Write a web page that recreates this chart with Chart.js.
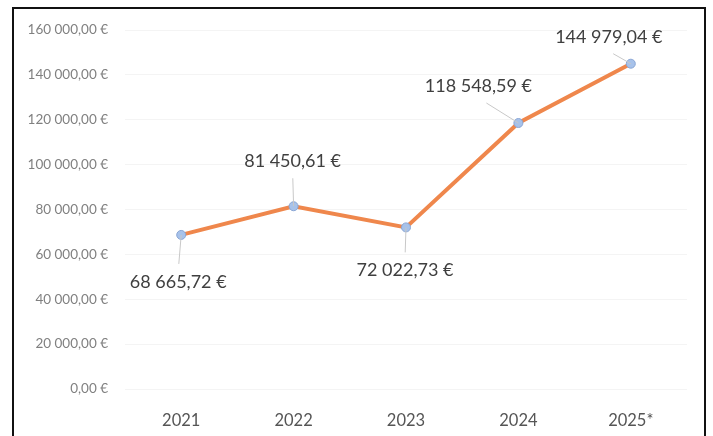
<!DOCTYPE html>
<html>
<head>
<meta charset="utf-8">
<script src="https://cdn.jsdelivr.net/npm/chart.js@4"></script>
<style>
  html, body { margin: 0; padding: 0; background: #fff; }
  #wrap { position: relative; width: 713px; height: 436px; overflow: hidden; }
  #frame {
    position: absolute; left: 12px; top: 7px; width: 690px; height: 450px;
    border: 2px solid #111; box-sizing: content-box;
  }
  canvas { position: absolute; left: 0; top: 0; }
</style>
</head>
<body>
<div id="wrap">
  <div id="frame"></div>
  <canvas id="myChart" width="713" height="436"></canvas>
</div>
<script>
const years = ["2021", "2022", "2023", "2024", "2025*"];
const amounts = [68665.72, 81450.61, 72022.73, 118548.59, 144979.04];
const yTicks = [0, 20000, 40000, 60000, 80000, 100000, 120000, 140000, 160000];

// label centre offsets from each point (px)
const labelOffsets = [[-3, 47], [-1, -45], [-1, 43], [-40, -37], [-22, -27]];

function euro(v) {
  const parts = v.toFixed(2).split(".");
  const int = parts[0].replace(/\B(?=(\d{3})+(?!\d))/g, " ");
  return int + "," + parts[1] + " €";
}

const dataLabels = {
  id: "dataLabels",
  afterDatasetsDraw(chart) {
    const ctx = chart.ctx;
    const meta = chart.getDatasetMeta(0);
    ctx.save();
    ctx.font = "18px Lato";
    ctx.textAlign = "center";
    ctx.textBaseline = "middle";
    meta.data.forEach(function (pt, i) {
      const text = euro(amounts[i]);
      const lx = pt.x + labelOffsets[i][0];
      const ly = pt.y + labelOffsets[i][1];
      const dx = lx - pt.x;
      const hh = labelOffsets[i][1] > 0 ? -18 : 17;
      // leader line from point to the label's near edge
      ctx.strokeStyle = "#c8c8c8";
      ctx.lineWidth = 1;
      ctx.beginPath();
      ctx.moveTo(pt.x, pt.y);
      ctx.lineTo(lx - dx * 0.2, ly + hh);
      ctx.stroke();
      ctx.fillStyle = "#3f3f3f";
      ctx.fillText(text, lx, ly);
    });
    ctx.restore();
  },
};

const ctx = document.getElementById("myChart");

new Chart(ctx, {
  type: "line",
  data: {
    labels: years,
    datasets: [
      {
        data: amounts,
        borderColor: "#ef874c",
        borderWidth: 4,
        backgroundColor: "#a7c2ea",
        pointBackgroundColor: "#a7c2ea",
        pointBorderColor: "#8aa6d4",
        pointBorderWidth: 1,
        pointRadius: 4.5,
        tension: 0,
      },
    ],
  },
  options: {
    responsive: false,
    animation: false,
    layout: { padding: { top: 30, right: 26, left: 0, bottom: 0 } },
    plugins: { legend: { display: false }, tooltip: { enabled: false } },
    scales: {
      x: {
        offset: true,
        grid: { display: false },
        border: { display: false },
        ticks: { color: "#555", font: { family: "Lato", size: 16.5 }, padding: 14 },
        afterFit: function (scale) { scale.height = 47; },
      },
      y: {
        min: 0,
        max: 160000,
        afterBuildTicks: function (scale) {
          scale.ticks = yTicks.map(function (v) { return { value: v }; });
        },
        grid: { color: "#f4f4f4", drawTicks: false },
        border: { display: false },
        ticks: {
          color: "#808080",
          font: { family: "Lato", size: 13.5 },
          padding: 17,
          callback: function (v) { return euro(v); },
        },
        afterFit: function (scale) { scale.width = 125; },
      },
    },
  },
  plugins: [dataLabels],
});
</script>
</body>
</html>
